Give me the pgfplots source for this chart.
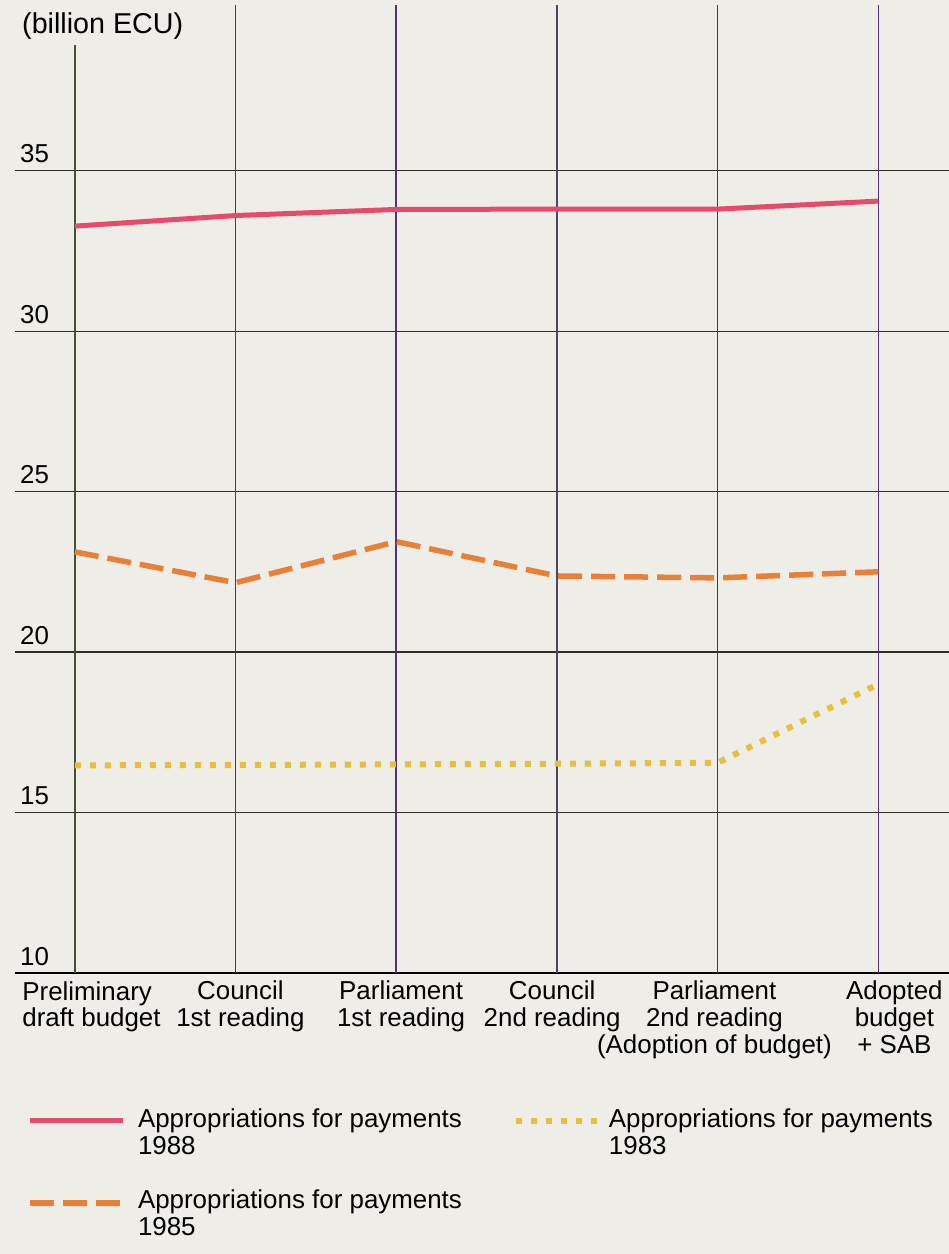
\documentclass[border=0pt]{standalone}
\usepackage{fontspec}
\setmainfont{Liberation Sans}
\usepackage{pgfplots}
\pgfplotsset{compat=1.18}
\definecolor{bg}{RGB}{238,237,231}
\definecolor{gridc}{RGB}{45,45,35}
\definecolor{vol}{RGB}{70,80,55}
\definecolor{vgreen}{RGB}{30,85,45}
\definecolor{vpurple}{RGB}{85,50,115}
\definecolor{vgrey}{RGB}{78,70,100}
\definecolor{c88}{RGB}{232,74,108}
\definecolor{c85}{RGB}{232,128,56}
\definecolor{c83}{RGB}{230,192,60}
\pgfplotsset{
  longleg/.style={legend image code/.code={\draw[##1] (0bp,#1) -- (93bp,#1);}},
  shortleg/.style={legend image code/.code={\draw[##1] (0bp,#1) -- (83bp,#1);}},
}
\begin{document}
\begin{tikzpicture}[font=\fontsize{26}{27}\selectfont]
\fill[bg] (0,0) rectangle (949bp,1254bp);
\begin{axis}[
  at={(15bp,281bp)}, anchor=south west,
  scale only axis, width=934bp, height=968bp,
  xmin=-0.373, xmax=5.44, ymin=10, ymax=40.16,
  axis x line*=bottom, axis y line*=left,
  x axis line style={-, line width=2.2bp, color=black},
  y axis line style={draw=none},
  major tick length=0pt, tick style={draw=none},
  ytick={10,15,20,25,30,35},
  ymajorgrids, grid style={line width=1.1bp, color=gridc},
  yticklabel style={anchor=south west, inner sep=0pt, xshift=5bp, yshift=7.5bp},
  /pgf/number format/assume math mode=true,
  xtick={0.103,1.03,2.03,2.97,3.98,5.10},
  xticklabels={
    {\begin{tabular}{@{}l@{}}Preliminary\\draft budget\end{tabular}},
    {Council\\1st reading},
    {Parliament\\1st reading},
    {Council\\2nd reading},
    {Parliament\\2nd reading\\(Adoption of budget)},
    {Adopted\\budget\\+ SAB}},
  xticklabel style={anchor=north, inner sep=0pt, align=center, yshift=-8bp},
  ylabel={(billion ECU)},
  ylabel style={rotate=-90, at={(axis description cs:0,1)}, anchor=base west, inner sep=0pt, xshift=7bp, yshift=-29bp, font=\fontsize{28.8}{30}\selectfont},
  legend columns=2,
  legend style={at={(axis description cs:0,0)}, anchor=north west, xshift=12.25bp, yshift=-136bp,
    draw=none, fill=none, inner sep=0pt, outer sep=0pt, row sep=34bp, column sep=12.25bp,
    /tikz/every even column/.append style={column sep=51bp},
    /tikz/column 3/.append style={column sep=7bp},
    nodes={inner sep=0pt, anchor=base west, align=left}},
]
\addplot[forget plot, vol, line width=1.6bp] coordinates {(0,10) (0,38.9)};
\addplot[forget plot, vgreen, line width=1.6bp] coordinates {(1,10) (1,40.16)};
\addplot[forget plot, vpurple, line width=1.6bp] coordinates {(2,10) (2,40.16)};
\addplot[forget plot, vgrey, line width=1.6bp] coordinates {(3,10) (3,40.16)};
\addplot[forget plot, vgreen, line width=1.6bp] coordinates {(4,10) (4,40.16)};
\addplot[forget plot, vpurple, line width=1.6bp] coordinates {(5,10) (5,40.16)};

\addplot[c88, line width=5bp, longleg=34bp]
  coordinates {(0,33.27) (1,33.6) (2,33.79) (3,33.8) (4,33.8) (5,34.05)};
\addlegendentry{Appropriations for payments\\1988}
\addplot[c83, line width=6bp, dash pattern=on 6bp off 9bp, shortleg=34bp]
  coordinates {(0,16.47) (1,16.48) (2,16.5) (3,16.52) (4,16.55) (5,19.0)};
\addlegendentry{Appropriations for payments\\1983}
\addplot[c85, line width=5.5bp, dash pattern=on 24bp off 9bp, longleg=33bp]
  coordinates {(0,23.12) (1,22.16) (2,23.44) (3,22.37) (4,22.31) (5,22.5)};
\addlegendentry{Appropriations for payments\\1985}
\end{axis}
\pgfresetboundingbox
\path[use as bounding box] (0,0) rectangle (949bp,1254bp);
\end{tikzpicture}
\end{document}
